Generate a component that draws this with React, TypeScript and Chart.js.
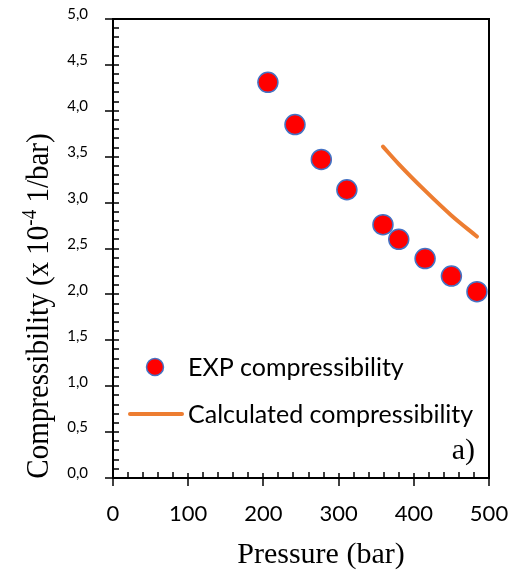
import React, { useEffect, useRef } from 'react';
import { Chart, registerables } from 'chart.js';

Chart.register(...registerables);

// ---- data ----
const pressures = [206, 242, 277, 311, 359, 380, 415, 450, 484];
const expCompressibility = [4.31, 3.85, 3.47, 3.14, 2.76, 2.6, 2.39, 2.2, 2.03];
const calcPressures = [359, 380, 415, 450, 484];
const calcCompressibility = [3.61, 3.42, 3.13, 2.86, 2.63];

const xTicks = [0, 100, 200, 300, 400, 500];
const yTicks = [0, 0.5, 1, 1.5, 2, 2.5, 3, 3.5, 4, 4.5, 5];
const xTickLabels = xTicks.map((v) => String(v));
const yTickLabels = yTicks.map((v) => v.toFixed(1).replace('.', ','));
const xMinorStep = 20;
const yMinorStep = 0.1;

const seriesLabels = ['EXP compressibility', 'Calculated compressibility'];
const xTitle = 'Pressure (bar)';
const yTitleParts = ['Compressibility (x 10', '-4', ' 1/bar)'];
const panelLabel = 'a)';

const RED = '#FF0000';
const BLUE = '#4472C4';
const ORANGE = '#ED7D31';
const SANS = 'Lato, "DejaVu Sans", sans-serif';
const SERIF = '"Liberation Serif", "Times New Roman", serif';

const framePlugin = {
  id: 'frame',
  beforeDatasetsDraw(chart: any) {
    const { ctx, chartArea: a, scales } = chart;
    const x = scales.x;
    const y = scales.y;
    ctx.save();
    ctx.strokeStyle = '#000';
    ctx.lineCap = 'butt';

    ctx.lineWidth = 1.5;
    const yMin = yTicks[0];
    const yMax = yTicks[yTicks.length - 1];
    const nY = Math.round((yMax - yMin) / yMinorStep);
    for (let i = 0; i <= nY; i++) {
      const v = yMin + i * yMinorStep;
      const py = Math.round(y.getPixelForValue(v));
      ctx.beginPath();
      if (i % 5 === 0) {
        ctx.moveTo(a.left - 8, py);
        ctx.lineTo(a.left + 6, py);
      } else {
        ctx.moveTo(a.left, py);
        ctx.lineTo(a.left + 6, py);
      }
      ctx.stroke();
    }
    const xMin = xTicks[0];
    const xMax = xTicks[xTicks.length - 1];
    const nX = Math.round((xMax - xMin) / xMinorStep);
    for (let i = 0; i <= nX; i++) {
      const v = xMin + i * xMinorStep;
      const px = Math.round(x.getPixelForValue(v));
      ctx.beginPath();
      if (i % 5 === 0) {
        ctx.moveTo(px, a.bottom - 5);
        ctx.lineTo(px, a.bottom + 8);
      } else {
        ctx.moveTo(px, a.bottom - 6);
        ctx.lineTo(px, a.bottom);
      }
      ctx.stroke();
    }

    ctx.lineWidth = 2;
    ctx.strokeRect(a.left, a.top, a.right - a.left, a.bottom - a.top);
    ctx.restore();
  },
  afterDraw(chart: any) {
    const { ctx, scales } = chart;
    const x = scales.x;
    const y = scales.y;
    ctx.save();
    ctx.fillStyle = '#000';

    // y tick labels
    ctx.font = `15px ${SANS}`;
    ctx.textAlign = 'right';
    ctx.textBaseline = 'middle';
    yTicks.forEach((v, i) => {
      ctx.fillText(yTickLabels[i], 88, y.getPixelForValue(v) - 4.5);
    });

    // x tick labels
    ctx.font = `22px ${SANS}`;
    ctx.textAlign = 'center';
    ctx.textBaseline = 'middle';
    xTicks.forEach((v, i) => {
      ctx.fillText(xTickLabels[i], x.getPixelForValue(v), 514);
    });

    // x title
    ctx.font = `30px ${SERIF}`;
    ctx.textAlign = 'center';
    ctx.textBaseline = 'alphabetic';
    ctx.fillText(xTitle, 321, 563);

    // y title (rotated, with superscript)
    ctx.save();
    ctx.translate(48, 306);
    ctx.rotate(-Math.PI / 2);
    ctx.scale(1, 1.12);
    ctx.textAlign = 'left';
    ctx.textBaseline = 'alphabetic';
    const fonts = [`29px ${SERIF}`, `19px ${SERIF}`, `29px ${SERIF}`];
    const dys = [0, -11, 0];
    const widths = yTitleParts.map((t, i) => {
      ctx.font = fonts[i];
      return ctx.measureText(t).width;
    });
    const total = widths.reduce((s, w) => s + w, 0);
    let cx = -total / 2;
    yTitleParts.forEach((t, i) => {
      ctx.font = fonts[i];
      ctx.fillText(t, cx, dys[i]);
      cx += widths[i];
    });
    ctx.restore();

    // legend
    ctx.beginPath();
    ctx.arc(155, 367, 8.5, 0, Math.PI * 2);
    ctx.fillStyle = RED;
    ctx.fill();
    ctx.lineWidth = 1.5;
    ctx.strokeStyle = BLUE;
    ctx.stroke();

    ctx.beginPath();
    ctx.moveTo(130, 414);
    ctx.lineTo(182, 414);
    ctx.lineWidth = 4;
    ctx.lineCap = 'round';
    ctx.strokeStyle = ORANGE;
    ctx.stroke();

    ctx.fillStyle = '#000';
    ctx.font = `25px ${SANS}`;
    ctx.textAlign = 'left';
    ctx.textBaseline = 'alphabetic';
    ctx.fillText(seriesLabels[0], 188, 376);
    ctx.fillText(seriesLabels[1], 188, 423);

    // panel label
    ctx.font = `30px ${SERIF}`;
    ctx.textAlign = 'right';
    ctx.fillText(panelLabel, 475, 459);

    ctx.restore();
  },
};

export default function App() {
  const canvasRef = useRef<HTMLCanvasElement | null>(null);

  useEffect(() => {
    document.body.style.margin = '0';
    const canvas = canvasRef.current;
    if (!canvas) return;
    const chart = new Chart(canvas, {
      type: 'scatter',
      data: {
        datasets: [
          {
            label: seriesLabels[0],
            data: pressures.map((p, i) => ({ x: p, y: expCompressibility[i] })),
            pointRadius: 10,
            pointHoverRadius: 10,
            backgroundColor: RED,
            borderColor: BLUE,
            borderWidth: 1.5,
            showLine: false,
            clip: false,
          },
          {
            label: seriesLabels[1],
            data: calcPressures.map((p, i) => ({ x: p, y: calcCompressibility[i] })),
            showLine: true,
            pointRadius: 0,
            borderColor: ORANGE,
            backgroundColor: ORANGE,
            borderWidth: 4,
            borderCapStyle: 'round',
            cubicInterpolationMode: 'monotone',
            clip: false,
          } as any,
        ],
      },
      options: {
        responsive: false,
        animation: false,
        devicePixelRatio: 1,
        layout: { padding: { top: 19, right: 25, left: 0, bottom: 0 } },
        plugins: {
          legend: { display: false },
          tooltip: { enabled: false },
        },
        scales: {
          x: {
            type: 'linear',
            min: xTicks[0],
            max: xTicks[xTicks.length - 1],
            ticks: { display: false, stepSize: 100 },
            grid: { display: false, drawTicks: false },
            border: { display: false },
            afterFit: (s: any) => {
              s.height = 96;
            },
          },
          y: {
            type: 'linear',
            min: yTicks[0],
            max: yTicks[yTicks.length - 1],
            ticks: { display: false, stepSize: 0.5 },
            grid: { display: false, drawTicks: false },
            border: { display: false },
            afterFit: (s: any) => {
              s.width = 113;
            },
          },
        },
      },
      plugins: [framePlugin],
    } as any);
    return () => chart.destroy();
  }, []);

  return (
    <div>
      <canvas ref={canvasRef} width={514} height={574} style={{ display: 'block' }} />
    </div>
  );
}
